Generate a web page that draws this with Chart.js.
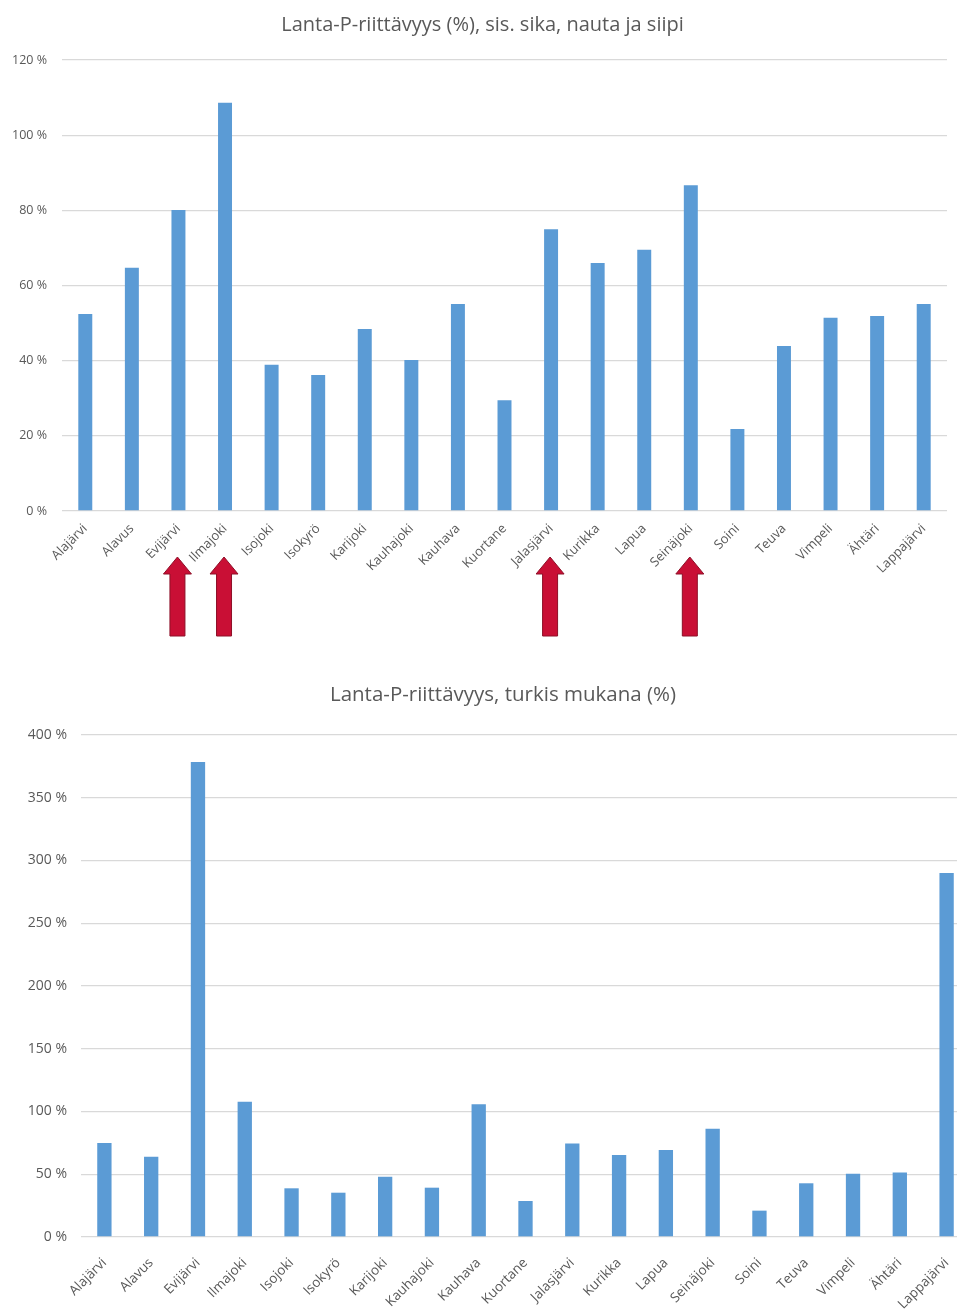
<!DOCTYPE html>
<html>
<head>
<meta charset="utf-8">
<script src="https://cdn.jsdelivr.net/npm/chart.js@4.4.0/dist/chart.umd.min.js"></script>
<style>
  html, body { margin: 0; padding: 0; background: #fff; overflow: hidden; width: 957px; height: 1310px; }
  #wrapTop { position: absolute; left: 0; top: 0; width: 957px; height: 645px; }
  #wrapBottom { position: absolute; left: 0; top: 655px; width: 1006px; height: 660px; }
</style>
</head>
<body>
<div id="wrapTop"><canvas id="chartTop"></canvas></div>
<div id="wrapBottom"><canvas id="chartBottom"></canvas></div>
<script>
// ---- data ----
const categories = ['Alajärvi','Alavus','Evijärvi','Ilmajoki','Isojoki','Isokyrö','Karijoki','Kauhajoki','Kauhava','Kuortane','Jalasjärvi','Kurikka','Lapua','Seinäjoki','Soini','Teuva','Vimpeli','Ähtäri','Lappajärvi'];
const topValues = [52.4, 64.7, 80.1, 108.6, 38.9, 36.2, 48.4, 40.2, 55.1, 29.5, 75.0, 66.0, 69.5, 86.7, 21.8, 43.9, 51.4, 51.9, 55.1];
const bottomValues = [75, 64, 378.5, 107.8, 38.8, 35.3, 48, 39.3, 105.7, 28.7, 74.6, 65.3, 69.3, 86.3, 21, 42.8, 50.4, 51.3, 290];
const arrowCategories = ['Evijärvi','Ilmajoki','Jalasjärvi','Seinäjoki'];
const topTicks = [0, 20, 40, 60, 80, 100, 120];
const bottomTicks = [0, 50, 100, 150, 200, 250, 300, 350, 400];
const topTitle = 'Lanta-P-riittävyys (%), sis. sika, nauta ja siipi';
const bottomTitle = 'Lanta-P-riittävyys, turkis mukana (%)';

const TEXT = '#595959';
const GRID = '#d9d9d9';
const BAR = '#5B9BD5';
const FONT = "'Open Sans', 'Liberation Sans', sans-serif";

const arrowPlugin = {
  id: 'arrows',
  afterDraw(chart) {
    const ctx = chart.ctx;
    const xs = chart.scales.x;
    const base = chart.chartArea.bottom;
    ctx.save();
    arrowCategories.forEach(name => {
      const i = categories.indexOf(name);
      const cx = xs.getPixelForValue(i) - 1;
      const tip = base + 46, headBase = base + 63, end = base + 125;
      ctx.beginPath();
      ctx.moveTo(cx, tip);
      ctx.lineTo(cx + 14, headBase);
      ctx.lineTo(cx + 7.5, headBase);
      ctx.lineTo(cx + 7.5, end);
      ctx.lineTo(cx - 7.5, end);
      ctx.lineTo(cx - 7.5, headBase);
      ctx.lineTo(cx - 14, headBase);
      ctx.closePath();
      ctx.fillStyle = '#C90F35';
      ctx.fill();
      ctx.lineWidth = 1;
      ctx.strokeStyle = '#8E1028';
      ctx.stroke();
    });
    ctx.restore();
  }
};

function titleShift(dx) {
  return {
    id: 'titleShift',
    afterLayout(chart) {
      const t = chart.titleBlock;
      if (t) { t.left += dx; t.right += dx; }
    }
  };
}

function makeChart(id, values, ticksArr, title, o) {
  return new Chart(document.getElementById(id), {
    type: 'bar',
    data: {
      labels: categories,
      datasets: [{ data: values, backgroundColor: BAR, borderWidth: 0, categoryPercentage: 1, barPercentage: o.barPct }]
    },
    options: {
      responsive: true,
      maintainAspectRatio: false,
      animation: false,
      layout: { padding: { top: o.padTop, right: o.padRight, left: 0, bottom: 0 } },
      plugins: {
        legend: { display: false },
        tooltip: { enabled: false },
        title: {
          display: true, text: title, color: TEXT,
          font: { family: FONT, size: o.titleSize, weight: 'normal', lineHeight: 1.2 },
          padding: { top: 10, bottom: o.titleBottom }
        }
      },
      scales: {
        x: {
          grid: { display: false, drawTicks: false },
          border: { display: false },
          ticks: {
            color: TEXT, autoSkip: false, minRotation: 45, maxRotation: 45, padding: o.xPad,
            font: { family: FONT, size: o.xSize }
          },
          afterFit(axis) { axis.height = o.xHeight; }
        },
        y: {
          min: 0, max: ticksArr[ticksArr.length - 1],
          afterBuildTicks(axis) { axis.ticks = ticksArr.map(v => ({ value: v })); },
          grid: { color: GRID, lineWidth: 1.3, drawTicks: false },
          border: { display: false },
          ticks: {
            color: TEXT, padding: o.yPad,
            font: { family: FONT, size: o.ySize },
            callback: v => v + ' %'
          },
          afterFit(axis) { axis.width = o.yWidth; }
        }
      }
    },
    plugins: [titleShift(o.titleDx)].concat(o.plugins || [])
  });
}

makeChart('chartTop', topValues, topTicks, topTitle, {
  barPct: 0.3, padTop: 3, padRight: 10, titleSize: 20, titleBottom: 23, titleDx: 9,
  xSize: 13, xPad: 10, xHeight: 134, ySize: 12.5, yPad: 15, yWidth: 62,
  plugins: [arrowPlugin]
});

makeChart('chartBottom', bottomValues, bottomTicks, bottomTitle, {
  barPct: 0.306, padTop: 18, padRight: 36, titleSize: 20.5, titleBottom: 27.4, titleDx: 18,
  xSize: 13.5, xPad: 18, xHeight: 78, ySize: 14, yPad: 14, yWidth: 81
});
</script>
</body>
</html>
